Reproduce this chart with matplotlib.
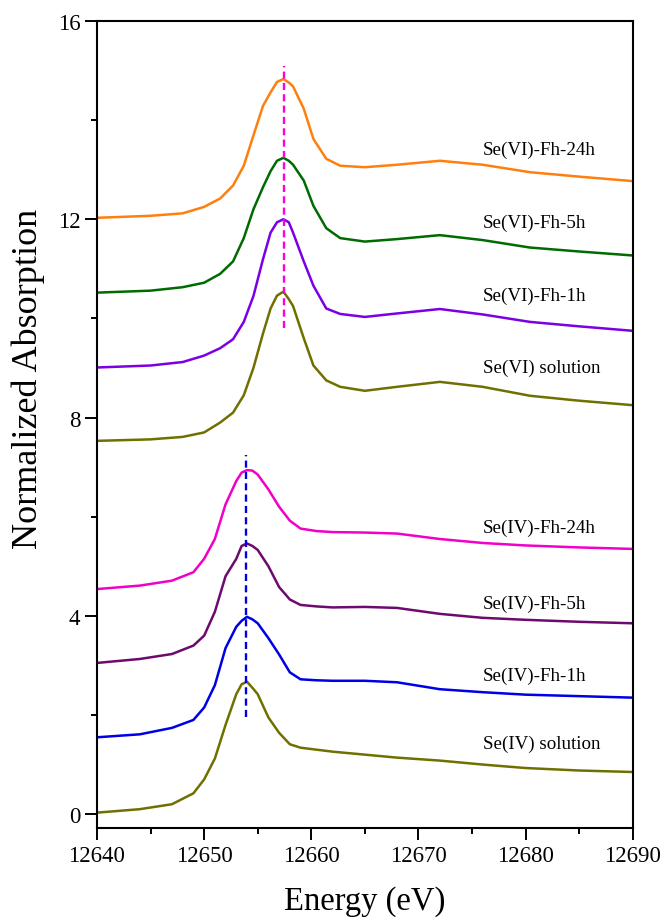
import matplotlib
matplotlib.use("Agg")
import matplotlib.pyplot as plt
from matplotlib.ticker import MultipleLocator

plt.rcParams['font.family'] = ['Liberation Serif', 'DejaVu Serif']

# energy grids (eV)
e_vi = [12640, 12645, 12648, 12650, 12651.5, 12652.7, 12653.7, 12654.6, 12655.5, 12656.2,
        12656.8, 12657.4, 12657.9, 12658.3, 12659.3, 12660.2, 12661.4, 12662.7, 12665, 12668,
        12672, 12676, 12680.4, 12685, 12690]
e_iv = [12640, 12644, 12647, 12649, 12650, 12651, 12652, 12653, 12653.5, 12654, 12654.5,
        12655, 12656, 12657, 12658, 12659, 12660.5, 12662, 12665, 12668, 12672, 12676,
        12680, 12685, 12690]

# Se(VI) spectra (stacked)
se6_24h = [12.03, 12.07, 12.12, 12.25, 12.42, 12.68, 13.08, 13.69, 14.29, 14.56, 14.77, 14.83,
           14.76, 14.68, 14.23, 13.62, 13.22, 13.08, 13.05, 13.10, 13.18, 13.10, 12.95, 12.86,
           12.77]
se6_5h = [10.52, 10.56, 10.63, 10.72, 10.90, 11.15, 11.62, 12.20, 12.65, 12.97, 13.18, 13.24,
          13.18, 13.10, 12.78, 12.27, 11.82, 11.62, 11.55, 11.60, 11.68, 11.58, 11.43, 11.35,
          11.27]
se6_1h = [9.01, 9.05, 9.12, 9.25, 9.40, 9.58, 9.93, 10.45, 11.20, 11.73, 11.94, 12.00,
          11.94, 11.73, 11.15, 10.66, 10.20, 10.09, 10.03, 10.10, 10.19, 10.08, 9.93, 9.84,
          9.75]
se6_sol = [7.53, 7.56, 7.61, 7.70, 7.90, 8.10, 8.45, 9.00, 9.70, 10.20, 10.46, 10.54,
           10.39, 10.25, 9.60, 9.05, 8.75, 8.62, 8.54, 8.62, 8.72, 8.62, 8.44, 8.34, 8.25]

# Se(IV) spectra (stacked)
se4_24h = [4.54, 4.61, 4.71, 4.88, 5.15, 5.55, 6.25, 6.72, 6.89, 6.94, 6.93, 6.85, 6.55,
           6.20, 5.92, 5.76, 5.71, 5.69, 5.68, 5.66, 5.55, 5.47, 5.42, 5.38, 5.35]
se4_5h = [3.05, 3.13, 3.23, 3.40, 3.60, 4.08, 4.80, 5.15, 5.41, 5.46, 5.41, 5.33, 5.00,
          4.58, 4.33, 4.22, 4.19, 4.17, 4.18, 4.16, 4.04, 3.96, 3.92, 3.88, 3.85]
se4_1h = [1.55, 1.61, 1.74, 1.90, 2.15, 2.60, 3.35, 3.78, 3.90, 3.98, 3.93, 3.85, 3.55,
          3.22, 2.86, 2.72, 2.70, 2.69, 2.69, 2.66, 2.52, 2.46, 2.41, 2.38, 2.35]
se4_sol = [0.03, 0.10, 0.20, 0.42, 0.70, 1.12, 1.80, 2.42, 2.62, 2.67, 2.55, 2.42, 1.95,
           1.64, 1.41, 1.34, 1.30, 1.26, 1.20, 1.14, 1.08, 1.00, 0.93, 0.88, 0.85]

labels = ["Se(VI)-Fh-24h", "Se(VI)-Fh-5h", "Se(VI)-Fh-1h", "Se(VI) solution",
          "Se(IV)-Fh-24h", "Se(IV)-Fh-5h", "Se(IV)-Fh-1h", "Se(IV) solution"]
label_y = [13.42, 11.94, 10.46, 9.01, 5.78, 4.25, 2.79, 1.43]
colors = ["#ff7f0e", "#006b00", "#7b00e6", "#707000",
          "#f000c8", "#6e0a6e", "#0000e6", "#707000"]

fig = plt.figure(figsize=(6.67, 9.2), dpi=100)
ax = fig.add_axes([0.1454, 0.0989, 0.8032, 0.8772])

series = [(e_vi, se6_24h), (e_vi, se6_5h), (e_vi, se6_1h), (e_vi, se6_sol),
          (e_iv, se4_24h), (e_iv, se4_5h), (e_iv, se4_1h), (e_iv, se4_sol)]
for (e, y), c in zip(series, colors):
    ax.plot(e, y, color=c, lw=1.8, solid_joinstyle='round')

for lab, ly in zip(labels, label_y):
    ax.text(12676.0, ly, lab, fontsize=13.7, va='center', ha='left')

# edge position markers
ax.plot([12657.45, 12657.45], [9.8, 15.1], ls=(0, (3.0, 1.8)), color="#ff00dd", lw=1.7)
ax.plot([12653.9, 12653.9], [1.95, 7.25], ls=(0, (3.0, 1.8)), color="#0000e6", lw=1.7)

ax.set_xlim(12640, 12690)
ax.set_ylim(-0.28, 16)
ax.set_xticks([12640, 12650, 12660, 12670, 12680, 12690])
ax.set_yticks([0, 4, 8, 12, 16])
ax.xaxis.set_minor_locator(MultipleLocator(5))
ax.yaxis.set_minor_locator(MultipleLocator(2))
ax.tick_params(which='major', direction='out', length=8.5, width=1.4, labelsize=16.5)
ax.tick_params(which='minor', direction='out', length=4.5, width=1.4)
for s in ax.spines.values():
    s.set_linewidth(1.5)

ax.set_xlabel("Energy (eV)", fontsize=23.5, labelpad=14)
ax.set_ylabel("Normalized Absorption", fontsize=26)
ax.yaxis.set_label_coords(-0.097, 0.558)

fig.savefig("out.png", dpi=100)
